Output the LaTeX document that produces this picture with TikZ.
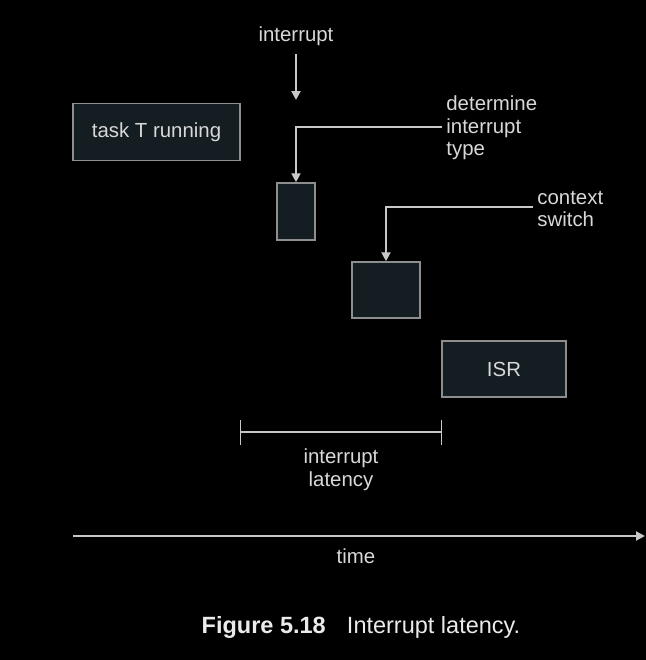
\documentclass[tikz,border=0pt]{standalone}
\usepackage{fontspec}
\setmainfont{Liberation Sans}
\usetikzlibrary{arrows.meta}
\definecolor{boxfill}{HTML}{131D22}
\definecolor{boxline}{HTML}{8E8E8E}
\definecolor{linegray}{HTML}{C8C8C8}
\definecolor{textgray}{HTML}{D8D8D8}
\begin{document}
\begin{tikzpicture}[x=0.5pt, y=-0.5pt]
	\tikzstyle{box} = [rectangle, draw=boxline, fill=boxfill, line width=0.75pt, text=textgray, font=\fontsize{10.2}{11.3}\selectfont]
	\tikzstyle{lbl} = [text=textgray, inner sep=2pt, font=\fontsize{10.2}{11.3}\selectfont]
	\tikzstyle{conn} = [draw=linegray, line width=1pt, -{Triangle[length=4.5pt, width=4.5pt]}]
	\tikzstyle{bracket} = [draw=linegray, line width=0.75pt, {Bar[width=12.5pt]}-{Bar[width=12.5pt]}]

	\fill[black] (0,0) rectangle (646,660);
	\useasboundingbox (0,0) rectangle (646,660);

	% the four stages
	\foreach \name/\x/\y/\w/\h/\txt in {task/156.5/132/83.5/28.5/task T running, det/296/211.5/19/28.5/, ctx/386/290/34/28/, isr/504/369/62/28/ISR}
		\node[box, minimum width=\w pt, minimum height=\h pt] (\name) at (\x, \y) {\txt};

	% labels
	\node[lbl] (intlbl) at (296, 36) {interrupt};
	\node[lbl, anchor=west, align=left] (detlbl) at (442, 128) {determine\\interrupt\\type};
	\node[lbl, anchor=west, align=left] (ctxlbl) at (533, 209) {context\\switch};
	\node[lbl, align=center] (latlbl) at (341, 470) {interrupt\\latency};
	\node[lbl] (timelbl) at (356, 556) {time};

	\coordinate (inthit) at (296, 100);
	\draw[conn] (intlbl.south) ++(0,4) -- (inthit);
	\draw[conn] (detlbl.west) ++(0,-1) -| (det.north);
	\draw[conn] (ctxlbl.west) ++(0,-2) -| (ctx.north);

	% latency span and time axis
	\coordinate (latA) at (239.5, 432);
	\coordinate (latB) at (442, 432);
	\draw[bracket] (latA) -- (latB);
	\coordinate (t0) at (73, 536);
	\coordinate (t1) at (645, 536);
	\draw[conn] (t0) -- (t1);

	% caption
	\node[text=white!92!black, font=\fontsize{11.75}{14}\selectfont] (caption) at (361, 627) {\textbf{Figure 5.18}\hspace{0.9em}Interrupt latency.};
\end{tikzpicture}
\end{document}
